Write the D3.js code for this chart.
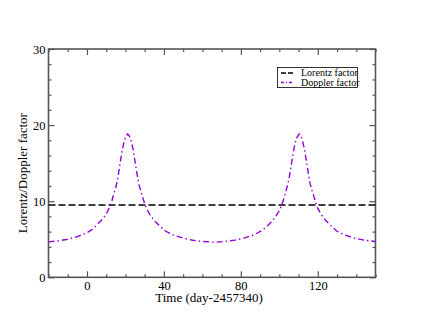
<!DOCTYPE html>
<html>
<head>
<meta charset="utf-8">
<script src="https://cdn.jsdelivr.net/npm/d3@7"></script>
<style>
  body { margin: 0; background: #fff; }
  svg { display: block; }
  text { font-family: "Liberation Serif", "DejaVu Serif", serif; fill: #000; }
</style>
</head>
<body>
<svg id="chart" width="423" height="327"></svg>
<script>
// values
var dopplerTime = [-20, -15, -10, -5, 0, 3, 5, 7, 9, 11, 12, 13, 14, 15, 16, 17, 18, 19, 20, 21.2,
    22, 23, 24, 25, 26, 27, 28, 29, 30, 31, 33, 35, 38, 41, 45, 50, 55, 60, 66,
    72, 77, 82, 87, 91, 94, 96, 98, 100, 101, 102, 103, 104, 105, 106, 107, 108, 109, 110.3,
    111, 112, 113, 114, 115, 116, 117, 118, 119, 120, 122, 124, 127, 130, 134, 139, 144, 150];
var dopplerValue = [4.66, 4.78, 5.0, 5.35, 5.85, 6.35, 6.85, 7.35, 7.95, 8.8, 9.4, 10.1, 11.0, 11.8, 13.0, 14.6, 16.2, 17.5, 18.4, 18.85,
    18.6, 17.9, 16.8, 15.2, 13.6, 12.2, 11.35, 10.5, 9.65, 9.0, 8.1, 7.45, 6.7, 6.05, 5.55, 5.15, 4.87, 4.72, 4.6,
    4.72, 4.88, 5.18, 5.6, 6.15, 6.8, 7.3, 7.95, 8.75, 9.35, 10.05, 10.95, 11.8, 12.9, 14.4, 16.0, 17.4, 18.3, 18.85,
    18.65, 18.0, 16.9, 15.4, 13.8, 12.3, 11.4, 10.6, 9.75, 9.05, 8.15, 7.5, 6.75, 6.05, 5.55, 5.15, 4.88, 4.7];
var lorentzTime = [-20, 150];
var lorentzValue = [9.5, 9.5];

var xMajor = [0, 40, 80, 120];
var xMinor = [-20, -10, 10, 20, 30, 50, 60, 70, 90, 100, 110, 130, 140, 150];
var yMajor = [0, 10, 20, 30];
var yMinor = [2, 4, 6, 8, 12, 14, 16, 18, 22, 24, 26, 28];

var seriesNames = ["Lorentz factor", "Doppler factor"];

var svg = d3.select("#chart");
var plotLeft = 48.5, plotRight = 375.5, plotTop = 49, plotBottom = 277.3;

var x = d3.scaleLinear().domain([-20, 150]).range([plotLeft, plotRight]);
var y = d3.scaleLinear().domain([0, 30]).range([plotBottom, plotTop]);

svg.append("clipPath").attr("id", "plotclip")
    .append("rect")
    .attr("x", plotLeft).attr("y", plotTop)
    .attr("width", plotRight - plotLeft).attr("height", plotBottom - plotTop);

// axes, ticks pointing inward
function styleAxis(g) {
    g.select(".domain").remove();
    g.selectAll("line").attr("stroke", "#555").attr("stroke-width", 1.2);
    g.selectAll("text").style("font-size", "12.5px").attr("fill", "#000");
}

svg.append("g").attr("transform", "translate(0," + plotBottom + ")")
    .call(d3.axisBottom(x).tickValues(xMajor).tickSize(-6).tickPadding(4).tickFormat(d3.format("d")))
    .call(styleAxis);
svg.append("g").attr("transform", "translate(0," + plotBottom + ")")
    .call(d3.axisBottom(x).tickValues(xMinor).tickSize(-3).tickFormat(""))
    .call(styleAxis);
svg.append("g").attr("transform", "translate(0," + plotTop + ")")
    .call(d3.axisTop(x).tickValues(xMajor).tickSize(-6).tickFormat(""))
    .call(styleAxis);
svg.append("g").attr("transform", "translate(0," + plotTop + ")")
    .call(d3.axisTop(x).tickValues(xMinor).tickSize(-3).tickFormat(""))
    .call(styleAxis);

svg.append("g").attr("transform", "translate(" + plotLeft + ",0)")
    .call(d3.axisLeft(y).tickValues(yMajor).tickSize(-6).tickPadding(3).tickFormat(d3.format("d")))
    .call(styleAxis);
svg.append("g").attr("transform", "translate(" + plotLeft + ",0)")
    .call(d3.axisLeft(y).tickValues(yMinor).tickSize(-3).tickFormat(""))
    .call(styleAxis);
svg.append("g").attr("transform", "translate(" + plotRight + ",0)")
    .call(d3.axisRight(y).tickValues(yMajor).tickSize(-6).tickFormat(""))
    .call(styleAxis);
svg.append("g").attr("transform", "translate(" + plotRight + ",0)")
    .call(d3.axisRight(y).tickValues(yMinor).tickSize(-3).tickFormat(""))
    .call(styleAxis);

// frame
svg.append("rect")
    .attr("x", plotLeft).attr("y", plotTop)
    .attr("width", plotRight - plotLeft).attr("height", plotBottom - plotTop)
    .attr("fill", "none").attr("stroke", "#555").attr("stroke-width", 1.6);

var line = d3.line().x(d => x(d[0])).y(d => y(d[1]));

var plot = svg.append("g").attr("clip-path", "url(#plotclip)");

plot.append("path")
    .datum(lorentzTime.map((t, i) => [t, lorentzValue[i]]))
    .attr("d", line)
    .attr("fill", "none")
    .attr("stroke", "#000")
    .attr("stroke-width", 1.5)
    .attr("stroke-dasharray", "7,3");

plot.append("path")
    .datum(dopplerTime.map((t, i) => [t, dopplerValue[i]]))
    .attr("d", line)
    .attr("fill", "none")
    .attr("stroke", "#9400d3")
    .attr("stroke-width", 1.4)
    .attr("stroke-dasharray", "6,3,1.5,3");

// axis titles
svg.append("text")
    .attr("x", (plotLeft + plotRight) / 2 - 3).attr("y", 302)
    .attr("text-anchor", "middle")
    .style("font-size", "13px")
    .text("Time (day-2457340)");

svg.append("text")
    .attr("transform", "translate(27," + ((plotTop + plotBottom) / 2 + 10) + ") rotate(-90)")
    .attr("text-anchor", "middle")
    .style("font-size", "13px")
    .text("Lorentz/Doppler factor");

// legend
var legend = svg.append("g");
legend.append("rect")
    .attr("x", 277.5).attr("y", 67.5)
    .attr("width", 80).attr("height", 20)
    .attr("fill", "#fff").attr("stroke", "#000").attr("stroke-width", 0.8);

var legendStyles = [
    { color: "#000", dash: "5,2" },
    { color: "#9400d3", dash: "3,2,1,2" }
];
seriesNames.forEach(function(name, i) {
    var ly = 73 + i * 9.5;
    legend.append("line")
        .attr("x1", 281).attr("x2", 294)
        .attr("y1", ly).attr("y2", ly)
        .attr("stroke", legendStyles[i].color)
        .attr("stroke-width", 1.3)
        .attr("stroke-dasharray", legendStyles[i].dash);
    legend.append("text")
        .attr("x", 301).attr("y", ly + 3.3)
        .style("font-size", "10px")
        .text(name);
});
</script>
</body>
</html>
